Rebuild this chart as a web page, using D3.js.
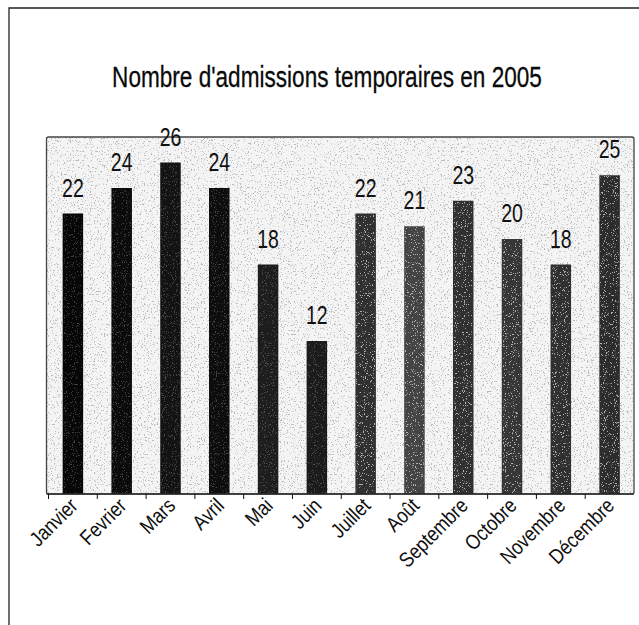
<!DOCTYPE html>
<html>
<head>
<meta charset="utf-8">
<script src="https://cdn.jsdelivr.net/npm/d3@7"></script>
<style>
  html, body { margin: 0; padding: 0; background: #fff; }
  svg { display: block; }
</style>
</head>
<body>
<script>
// Monthly temporary admissions, 2005
const months = ["Janvier", "Fevrier", "Mars", "Avril", "Mai", "Juin",
                "Juillet", "Août", "Septembre", "Octobre", "Novembre", "Décembre"];
const admissions = [22, 24, 26, 24, 18, 12, 22, 21, 23, 20, 18, 25];
const titleText = "Nombre d'admissions temporaires en 2005";

// bar fill shades, one per month
const barShades = ["#070707", "#0b0b0b", "#131313", "#0d0d0d", "#1d1d1d", "#1b1b1b",
                   "#303030", "#444444", "#303030", "#363636", "#303030", "#2c2c2c"];

const W = 639, H = 625;
const plot = { left: 48.5, right: 634, top: 137, bottom: 494 };
const font = "'Liberation Sans', Arial, sans-serif";

const svg = d3.select("body").append("svg")
  .attr("width", W).attr("height", H);

const defs = svg.append("defs");
// sparse grain for the shaded plot background
const grain = defs.append("filter").attr("id", "grain")
  .attr("x", 0).attr("y", 0).attr("width", "100%").attr("height", "100%");
grain.append("feTurbulence").attr("type", "fractalNoise")
  .attr("baseFrequency", 0.7).attr("numOctaves", 2).attr("seed", 7).attr("result", "n");
grain.append("feColorMatrix").attr("in", "n").attr("type", "matrix")
  .attr("values", "0 0 0 0 0.5  0 0 0 0 0.5  0 0 0 0 0.5  14 0 0 0 -8.6");
// light speckle over the bars
const grainLight = defs.append("filter").attr("id", "grainLight")
  .attr("x", 0).attr("y", 0).attr("width", "100%").attr("height", "100%");
grainLight.append("feTurbulence").attr("type", "fractalNoise")
  .attr("baseFrequency", 0.9).attr("numOctaves", 2).attr("seed", 3).attr("result", "n");
grainLight.append("feColorMatrix").attr("in", "n").attr("type", "matrix")
  .attr("values", "0 0 0 0 0.85  0 0 0 0 0.85  0 0 0 0 0.85  12 0 0 0 -7.4");

// outer chart frame (left and top edges)
svg.append("path")
  .attr("d", `M9,${H} V8 H${W}`)
  .attr("fill", "none").attr("stroke", "#222").attr("stroke-width", 1.3);

// title, condensed horizontally to a fixed width
const titleWidth = 430;
const title = svg.append("text")
  .attr("text-anchor", "middle")
  .attr("font-family", font)
  .attr("font-size", 30)
  .attr("fill", "#0a0a0a")
  .attr("stroke", "#0a0a0a").attr("stroke-width", 0.3)
  .text(titleText);
const naturalWidth = title.node().getComputedTextLength();
title.attr("transform", `translate(327,87) scale(${titleWidth / naturalWidth},1)`);

const x = d3.scaleBand().domain(months).range([plot.left, plot.right])
  .paddingInner(0.58).paddingOuter(0.29);
const y = d3.scaleLinear().domain([0, 28]).range([plot.bottom, plot.top]);

// plot area background
svg.append("rect")
  .attr("x", plot.left - 2).attr("y", plot.top)
  .attr("width", plot.right - plot.left + 2).attr("height", plot.bottom - plot.top)
  .attr("fill", "#f4f4f4");
svg.append("rect")
  .attr("x", plot.left - 2).attr("y", plot.top)
  .attr("width", plot.right - plot.left + 2).attr("height", plot.bottom - plot.top)
  .attr("filter", "url(#grain)");

// bars
const bars = svg.append("g");
bars.selectAll("rect.bar").data(admissions).join("rect")
  .attr("class", "bar")
  .attr("x", (d, i) => x(months[i]))
  .attr("y", d => y(d))
  .attr("width", x.bandwidth())
  .attr("height", d => y(0) - y(d))
  .attr("fill", (d, i) => barShades[i]);
bars.selectAll("rect.speck").data(admissions).join("rect")
  .attr("class", "speck")
  .attr("x", (d, i) => x(months[i]) + 1.5)
  .attr("y", d => y(d) + 1.5)
  .attr("width", x.bandwidth() - 3)
  .attr("height", d => y(0) - y(d) - 1.5)
  .attr("filter", "url(#grainLight)")
  .attr("opacity", (d, i) => i < 6 ? 0.25 : 0.7);

// plot area border
svg.append("rect")
  .attr("x", plot.left - 2).attr("y", plot.top)
  .attr("width", plot.right - plot.left + 2).attr("height", plot.bottom - plot.top)
  .attr("fill", "none").attr("stroke", "#444").attr("stroke-width", 1.3)
  .attr("rx", 2);

// value labels above the bars (condensed digits)
svg.append("g").selectAll("text").data(admissions).join("text")
  .attr("transform", (d, i) => `translate(${x(months[i]) + x.bandwidth() / 2},${y(d) - 17}) scale(0.78,1)`)
  .attr("text-anchor", "middle")
  .attr("font-family", font)
  .attr("font-size", 25)
  .attr("fill", "#111")
  .text(d => d);

// category axis along the bottom
const xAxis = d3.axisBottom(x).tickSize(5).tickFormat("");
const axisG = svg.append("g")
  .attr("transform", `translate(0,${plot.bottom})`)
  .call(xAxis);
axisG.select(".domain").attr("stroke", "#111").attr("stroke-width", 1.2)
  .attr("d", `M${plot.left - 2},0H${plot.right}`);
// ticks sit on the band boundaries
axisG.selectAll(".tick").attr("transform", d => `translate(${x(d) - x.step() * x.paddingInner() / 2},0)`);
axisG.selectAll(".tick line").attr("stroke", "#111");

// rotated month names
svg.append("g").selectAll("text").data(months).join("text")
  .attr("transform", d => `translate(${x(d) + x.bandwidth() / 2 + 6},${plot.bottom + 13}) rotate(-45) scale(0.85,1)`)
  .attr("text-anchor", "end")
  .attr("font-family", font)
  .attr("font-size", 21)
  .attr("fill", "#111")
  .text(d => d);
</script>
</body>
</html>
